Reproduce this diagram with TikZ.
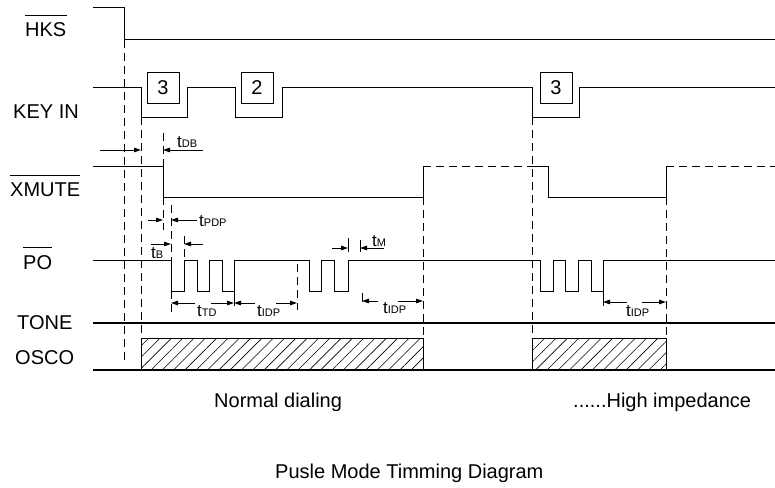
\documentclass[tikz,border=0pt]{standalone}
\usepackage{fontspec}
\setmainfont{Liberation Sans}
\usetikzlibrary{arrows.meta,patterns.meta}
\tikzset{
  sig/.style={line width=1pt},
  rail/.style={line width=1.3pt},
  guide/.style={line width=0.9pt, dash pattern=on 8pt off 5pt},
  tick/.style={line width=0.8pt},
  dim/.style={line width=0.8pt, -{Triangle[length=7pt,width=4.5pt]}},
  lbl/.style={inner sep=0pt, anchor=base west, font=\fontsize{20}{24}\selectfont},
  tlbl/.style={inner sep=0pt, anchor=base west, font=\fontsize{17}{20}\selectfont},
  bar/.style={line width=1pt},
  keybox/.style={draw, line width=1pt, minimum width=32pt, minimum height=31pt, inner sep=0pt, font=\fontsize{20}{24}\selectfont},
  osc/.style={line width=1pt, pattern={Lines[angle=45,distance=8pt,line width=0.6pt]}}
}
\newcommand{\tsub}[1]{t{\fontsize{11}{12}\selectfont #1}}

\begin{document}
\begin{tikzpicture}[x=1pt, y=-1pt]
\useasboundingbox (0,0) rectangle (775,487);
% signal names
\node[lbl] (lhks) at (25,37) {HKS};
\node[lbl] (lkey) at (13,118) {KEY IN};
\node[lbl] (lxmute) at (10,196) {XMUTE};
\node[lbl] (lpo) at (23,269) {PO};
\node[lbl] (ltone) at (17,329) {TONE};
\node[lbl] (losco) at (15,364) {OSCO};
\foreach \n in {lhks,lxmute,lpo}
  \draw[bar] ([yshift=7pt]\n.north west) -- ([yshift=7pt]\n.north east);
% HKS
\draw[sig] (93,8) -- (124,8) -- (124,40) -- (775,40);
% KEY IN
\draw[sig] (93,87) -- (141,87) -- (141,117) -- (187,117) -- (187,87) -- (235,87)
  -- (235,117) -- (282,117) -- (282,87) -- (532,87) -- (532,117) -- (579,117)
  -- (579,87) -- (775,87);
\node[keybox] (k3) at (163,87.5) {3};
\node[keybox] (k2) at (257,87.5) {2};
\node[keybox] (k3b) at (556,87.5) {3};
% XMUTE
\draw[sig] (93,166) -- (163,166) -- (163,197) -- (423,197) -- (423,166);
\draw[guide] (423,166) -- (532,166);
\draw[sig] (532,166) -- (548,166) -- (548,197) -- (666,197) -- (666,166);
\draw[guide] (666,166) -- (775,166);
% PO pulse trains
\draw[sig] (93,260) -- (171,260)
  -- (171,291) -- (184,291) -- (184,260) -- (197,260)
  -- (197,291) -- (209,291) -- (209,260) -- (222,260)
  -- (222,291) -- (234,291) -- (234,260) -- (309,260)
  -- (309,291) -- (321,291) -- (321,260) -- (334,260)
  -- (334,291) -- (348,291) -- (348,260) -- (540,260)
  -- (540,291) -- (553,291) -- (553,260) -- (565,260)
  -- (565,291) -- (578,291) -- (578,260) -- (591,260)
  -- (591,291) -- (603,291) -- (603,260) -- (775,260);
% TONE and OSCO
\draw[rail] (93,323) -- (775,323);
\draw[rail] (93,370) -- (775,370);
\draw[osc] (141,338) rectangle (423,370);
\draw[osc] (532,338) rectangle (666,370);
% guide lines
\draw[guide] (124,40) -- (124,362);
\draw[guide] (141,117) -- (141,338);
\draw[guide] (423,197) -- (423,338);
\draw[guide] (532,117) -- (532,338);
\draw[guide] (666,197) -- (666,338);
\draw[guide] (163,133) -- (163,166);
\draw[guide] (163,197) -- (163,230);
\draw[guide] (171,205) -- (171,260);
\draw[guide] (171,291) -- (171,312);
\draw[guide] (184,236) -- (184,260);
\draw[guide] (297,264) -- (297,310);
\draw[tick] (348,238) -- (348,252);
\draw[tick] (360,240) -- (360,252);
\draw[tick] (362,293) -- (362,302);
\draw[tick] (234,291) -- (234,306);
\draw[tick] (603,291) -- (603,306);
% timing marks
\draw[dim] (100,150) -- (141,150);
\draw[dim] (203,150) -- (163,150);
\node[tlbl] (tdb) at (177,147) {\tsub{DB}};
\draw[dim] (148,220) -- (163,220);
\draw[dim] (197,220) -- (171,220);
\node[tlbl] (tpdp) at (199,226) {\tsub{PDP}};
\draw[dim] (151,244) -- (171,244);
\node[tlbl] (tb) at (151,258) {\tsub{B}};
\draw[dim] (203,244) -- (184,244);
\draw[dim] (195,303) -- (171,303);
\draw[dim] (211,303) -- (234,303);
\node[tlbl] (ttd) at (197,316) {\tsub{TD}};
\draw[dim] (255,303) -- (234,303);
\draw[dim] (276,303) -- (297,303);
\node[tlbl] (tidpa) at (257,316) {\tsub{IDP}};
\draw[dim] (332,248) -- (348,248);
\draw[dim] (384,248) -- (360,248);
\node[tlbl] (tm) at (372,246) {\tsub{M}};
\draw[dim] (378,301) -- (362,301);
\draw[dim] (398,301) -- (423,301);
\node[tlbl] (tidpb) at (383,313) {\tsub{IDP}};
\draw[dim] (627,302) -- (603,302);
\draw[dim] (642,302) -- (666,302);
\node[tlbl] (tidpc) at (626,316) {\tsub{IDP}};
% captions
\node[lbl] (normal) at (214,407) {Normal dialing};
\node[lbl] (highz) at (573,407) {......High impedance};
\node[lbl] (title) at (275,478) {Pusle Mode Timming Diagram};
\end{tikzpicture}
\end{document}
